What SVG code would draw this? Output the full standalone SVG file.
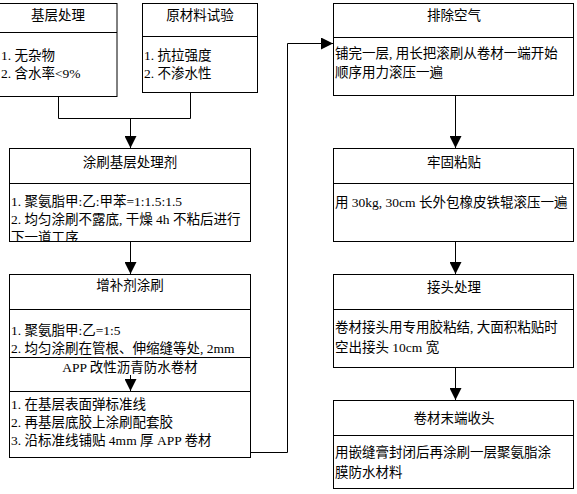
<svg xmlns="http://www.w3.org/2000/svg" width="577" height="494" viewBox="0 0 577 494">
<style>
.box{fill:#fff;stroke:#000;stroke-width:1}
.div{stroke:#000;stroke-width:1}
text{font-family:"Liberation Serif","Noto Sans CJK SC",serif;font-size:13.5px;fill:#000}
.t{text-anchor:middle}
.c{fill:none;stroke:#000;stroke-width:1}
</style>
<defs>
<marker id="ah" markerUnits="userSpaceOnUse" markerWidth="12" markerHeight="12" viewBox="0 0 12 12" refX="12" refY="6" orient="auto">
<path d="M0,0 L12,6 L0,12 Z" fill="#000"/>
</marker>
<clipPath id="cb3"><rect x="9" y="183" width="241" height="59"/></clipPath>
</defs>
<rect width="577" height="494" fill="#fff"/>
<g id="n1">
<rect class="box" x="-1" y="3.5" width="118" height="93"/>
<line class="div" x1="-1" y1="32.5" x2="117" y2="32.5"/>
<text class="t" x="58" y="20">基层处理</text>
<text x="1" y="60">1. 无杂物</text>
<text x="1" y="78">2. 含水率&lt;9%</text>
</g>
<g id="n2">
<rect class="box" x="142.5" y="3.5" width="115" height="89"/>
<line class="div" x1="142.5" y1="36.5" x2="257.5" y2="36.5"/>
<text class="t" x="200" y="20">原材料试验</text>
<text x="144" y="60">1. 抗拉强度</text>
<text x="144" y="78">2. 不渗水性</text>
</g>
<g id="n3">
<rect class="box" x="9.5" y="148.5" width="241" height="93"/>
<line class="div" x1="9.5" y1="183.5" x2="250.5" y2="183.5"/>
<text class="t" x="130" y="167">涂刷基层处理剂</text>
<g clip-path="url(#cb3)">
<text x="11" y="206">1. 聚氨脂甲:乙:甲苯=1:1.5:1.5</text>
<text x="11" y="224">2. 均匀涂刷不露底, 干燥 4h 不粘后进行</text>
<text x="11" y="242">下一道工序</text>
</g>
</g>
<g id="n4">
<rect class="box" x="9.5" y="274.5" width="241" height="100"/>
<line class="div" x1="9.5" y1="309.5" x2="250.5" y2="309.5"/>
<text class="t" x="130" y="290">增补剂涂刷</text>
<text x="11" y="335">1. 聚氨脂甲:乙=1:5</text>
<text x="11" y="353">2. 均匀涂刷在管根、伸缩缝等处, 2mm</text>
</g>
<g id="n5">
<rect class="box" x="9.5" y="357.5" width="241" height="100"/>
<line class="div" x1="9.5" y1="391.5" x2="250.5" y2="391.5"/>
<text class="t" x="130" y="372">APP 改性沥青防水卷材</text>
<text x="11" y="409">1. 在基层表面弹标准线</text>
<text x="11" y="427">2. 再基层底胶上涂刷配套胶</text>
<text x="11" y="445">3. 沿标准线铺贴 4mm 厚 APP 卷材</text>
</g>
<g id="n6">
<rect class="box" x="333.5" y="3.5" width="240" height="92"/>
<line class="div" x1="333.5" y1="37.5" x2="573.5" y2="37.5"/>
<text class="t" x="454" y="20">排除空气</text>
<text x="335" y="58">铺完一层, 用长把滚刷从卷材一端开始</text>
<text x="335" y="77">顺序用力滚压一遍</text>
</g>
<g id="n7">
<rect class="box" x="333.5" y="148.5" width="240" height="93"/>
<line class="div" x1="333.5" y1="183.5" x2="573.5" y2="183.5"/>
<text class="t" x="454" y="167">牢固粘贴</text>
<text x="335" y="207">用 30kg, 30cm 长外包橡皮铁辊滚压一遍</text>
</g>
<g id="n8">
<rect class="box" x="333.5" y="274.5" width="240" height="93"/>
<line class="div" x1="333.5" y1="309.5" x2="573.5" y2="309.5"/>
<text class="t" x="454" y="292">接头处理</text>
<text x="335" y="332">卷材接头用专用胶粘结, 大面积粘贴时</text>
<text x="335" y="352">空出接头 10cm 宽</text>
</g>
<g id="n9">
<rect class="box" x="333.5" y="400.5" width="240" height="88"/>
<line class="div" x1="333.5" y1="435.5" x2="573.5" y2="435.5"/>
<text class="t" x="454" y="423">卷材末端收头</text>
<text x="335" y="457">用嵌缝膏封闭后再涂刷一层聚氨脂涂</text>
<text x="335" y="477">膜防水材料</text>
</g>
<g id="connectors">
<polyline class="c" points="58.5,97 58.5,118.5 190.5,118.5 190.5,93"/>
<line class="c" x1="130.5" y1="118.5" x2="130.5" y2="148" marker-end="url(#ah)"/>
<line class="c" x1="130.5" y1="242" x2="130.5" y2="274" marker-end="url(#ah)"/>
<line class="c" x1="130.5" y1="375" x2="130.5" y2="391" marker-end="url(#ah)"/>
<polyline class="c" points="251,452.5 287.5,452.5 287.5,43.5 333,43.5" marker-end="url(#ah)"/>
<line class="c" x1="455.5" y1="96" x2="455.5" y2="148" marker-end="url(#ah)"/>
<line class="c" x1="455.5" y1="242" x2="455.5" y2="274" marker-end="url(#ah)"/>
<line class="c" x1="455.5" y1="368" x2="455.5" y2="400" marker-end="url(#ah)"/>
</g>
</svg>
